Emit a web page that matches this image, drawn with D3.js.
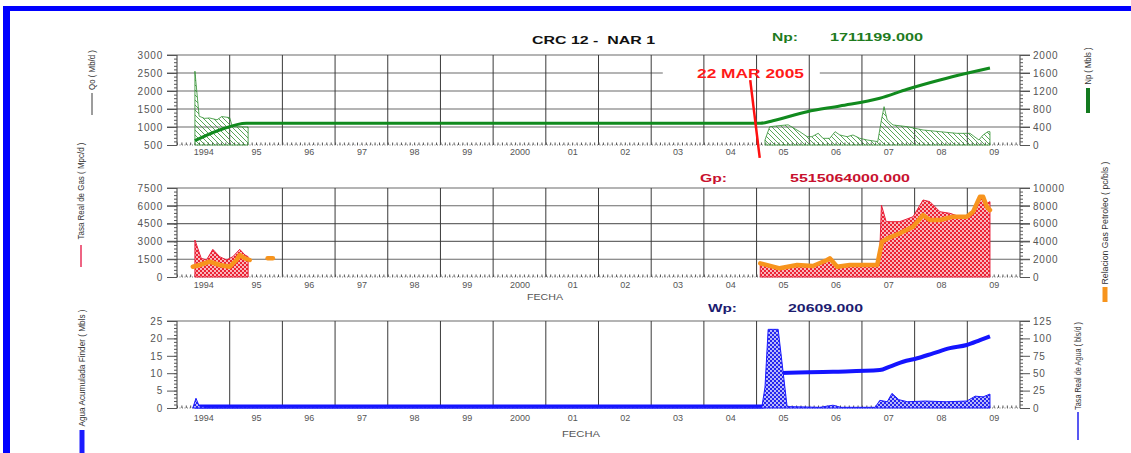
<!DOCTYPE html>
<html>
<head>
<meta charset="utf-8">
<script src="https://cdn.jsdelivr.net/npm/d3@7"></script>
<style>
  body { margin: 0; background: #fff; }
  svg { display: block; font-family: "Liberation Sans", Arial, sans-serif; }
</style>
</head>
<body>
<svg id="chart" width="1131" height="453"></svg>
<script>
// x axis: years (decimal), gridlines on Jan 1, labels mid-year
const yearGrid = d3.range(1994, 2011)
const yearLabels = ['1994', '95', '96', '97', '98', '99', '2000', '01', '02', '03', '04', '05', '06', '07', '08', '09']

// panel 1 - oil rate Qo (Mb/d, left) and cumulative Np (Mbls, right)
const qoEarly = [[1994.34, 2550], [1994.42, 1300], [1994.52, 1240], [1994.62, 1250], [1994.76, 1200], [1994.85, 1290], [1995.0, 1260], [1995.05, 1010], [1995.35, 1000]]
const qoLate = [[2005.16, 640], [2005.25, 1009], [2005.45, 1040], [2005.6, 1060], [2005.82, 870], [2005.96, 731], [2006.05, 731], [2006.17, 824], [2006.26, 685], [2006.39, 685], [2006.49, 870], [2006.58, 778], [2006.72, 731], [2006.83, 778], [2006.96, 685], [2007.1, 639], [2007.3, 593], [2007.37, 1194], [2007.42, 1565], [2007.48, 1194], [2007.59, 1056], [2007.86, 1009], [2008.16, 917], [2008.48, 870], [2008.8, 824], [2009.05, 824], [2009.22, 639], [2009.3, 778], [2009.39, 870], [2009.43, 870]]
const npCum = [[1994.34, 96], [1994.81, 333], [1995.32, 482], [2005.07, 482], [2005.31, 540], [2005.96, 740], [2006.58, 867], [2007.34, 1038], [2007.86, 1238], [2008.48, 1444], [2008.99, 1593], [2009.43, 1711]]

// panel 2 - gas rate (Mpc/d, left) and gas-oil ratio RGP (pc/bls, right)
const qgEarly = [[1994.34, 3118], [1994.46, 1573], [1994.56, 1433], [1994.68, 2331], [1994.81, 1713], [1994.94, 1433], [1995.06, 1713], [1995.19, 2331], [1995.29, 1854], [1995.35, 1713]]
const qgLate = [[2005.07, 1155], [2005.44, 733], [2005.77, 1011], [2006.07, 927], [2006.34, 1433], [2006.39, 1575], [2006.53, 868], [2006.77, 1011], [2007.33, 1011], [2007.37, 6067], [2007.46, 4663], [2007.72, 4663], [2007.97, 5080], [2008.16, 6489], [2008.29, 6348], [2008.48, 5500], [2008.67, 5365], [2008.86, 5080], [2009.05, 5080], [2009.18, 5787], [2009.28, 6910], [2009.37, 6208], [2009.43, 6348]]
const rgpEarly = [[1994.3, 1157], [1994.43, 1348], [1994.62, 1720], [1994.81, 1348], [1995.0, 1157], [1995.13, 1910], [1995.19, 2472], [1995.29, 2100], [1995.38, 1910]]
const rgpBlip = [[1995.72, 2100], [1995.82, 2100]]
const rgpLate = [[2005.07, 1536], [2005.44, 974], [2005.77, 1348], [2006.07, 1236], [2006.34, 1910], [2006.39, 2097], [2006.53, 1161], [2006.77, 1348], [2007.1, 1348], [2007.29, 1348], [2007.38, 3970], [2007.53, 4457], [2007.72, 4906], [2007.97, 5655], [2008.16, 6966], [2008.29, 6404], [2008.48, 6404], [2008.73, 6779], [2008.99, 6779], [2009.11, 7340], [2009.24, 9026], [2009.3, 9026], [2009.37, 7902], [2009.43, 7528]]

// panel 3 - cumulative water (Mbls, left) and water rate (bls/d, right)
const wpCum = [[1994.34, 0.4], [2005.12, 0.4], [2005.35, 10.0], [2006.45, 10.4], [2007.34, 10.9], [2007.53, 11.9], [2007.78, 13.3], [2008.05, 14.3], [2008.35, 15.7], [2008.67, 17.2], [2008.99, 18.1], [2009.24, 19.5], [2009.43, 20.6]]
const qwRate = [[1994.3, 0], [1994.36, 14], [1994.42, 3], [1994.55, 1], [2005.1, 1], [2005.16, 30], [2005.22, 113], [2005.41, 113], [2005.58, 2], [2006.2, 1], [2006.45, 4], [2006.6, 1], [2007.25, 1], [2007.34, 11], [2007.48, 9], [2007.57, 21], [2007.7, 12], [2007.86, 9], [2008.2, 10], [2008.6, 9], [2008.99, 10], [2009.15, 17], [2009.3, 16], [2009.43, 20]]

// event marker 22 MAR 2005 (year, Qo-axis value)
const marker = [[2004.88, 2300], [2005.06, 140]]

const svg = d3.select('#chart')
const defs = svg.append('defs')

// frame
svg.append('rect').attr('x', 3).attr('y', 6).attr('width', 1128).attr('height', 5).attr('fill', '#0000ff')
svg.append('rect').attr('x', 3).attr('y', 6).attr('width', 7).attr('height', 447).attr('fill', '#0000ff')

// fill patterns
const hatch = defs.append('pattern').attr('id', 'hatch').attr('patternUnits', 'userSpaceOnUse').attr('width', 5).attr('height', 5)
hatch.append('path').attr('d', 'M-1,-1 L6,6 M-1,4 L1,6 M4,-1 L6,1').attr('stroke', '#2f8f2f').attr('stroke-width', 0.8)

function dots(id, color) {
  const p = defs.append('pattern').attr('id', id).attr('patternUnits', 'userSpaceOnUse').attr('width', 4).attr('height', 4)
  p.append('rect').attr('width', 4).attr('height', 4).attr('fill', color)
  p.append('circle').attr('cx', 1).attr('cy', 1).attr('r', 0.9).attr('fill', '#fff')
  p.append('circle').attr('cx', 3).attr('cy', 3).attr('r', 0.9).attr('fill', '#fff')
}
dots('reddots', '#ec2234')
dots('bluedots', '#2626ee')

const x = d3.scaleLinear().domain([1994, 2010]).range([177, 1020])

const panels = [
  { top: 55, bottom: 145, left: [500, 3000], lstep: 500, right: [0, 2000], rstep: 400, grid: true, pad: 4 },
  { top: 188, bottom: 277, left: [0, 7500], lstep: 1500, right: [0, 10000], rstep: 2000, grid: true, pad: 5 },
  { top: 321, bottom: 408, left: [0, 25], lstep: 5, right: [0, 125], rstep: 25, grid: false, pad: 7 }
]

panels.forEach((p, i) => {
  p.yL = d3.scaleLinear().domain(p.left).range([p.bottom, p.top])
  p.yR = d3.scaleLinear().domain(p.right).range([p.bottom, p.top])
  const g = svg.append('g')

  // horizontal gridlines
  const hv = p.grid ? d3.range(p.left[0] + p.lstep, p.left[1] + 1, p.lstep) : [p.left[1]]
  g.selectAll('.hg').data(hv).enter().append('line')
    .attr('x1', 167).attr('x2', 1030)
    .attr('y1', d => p.yL(d)).attr('y2', d => p.yL(d))
    .attr('stroke', '#6a6a6a').attr('stroke-width', 1.1)

  if (i === 0) {
    // white box behind the event label
    g.append('rect').attr('x', x(2003.22)).attr('y', p.yL(2500) - 4)
      .attr('width', x(2006.2) - x(2003.22)).attr('height', 8).attr('fill', '#fff')
  }

  // vertical gridlines
  g.selectAll('.vg').data(yearGrid).enter().append('line')
    .attr('x1', d => x(d)).attr('x2', d => x(d))
    .attr('y1', p.top).attr('y2', p.bottom)
    .attr('stroke', '#3a3a3a').attr('stroke-width', 1)

  // left axis
  const la = g.append('g').attr('transform', 'translate(177,0)')
    .call(d3.axisLeft(p.yL).tickValues(d3.range(p.left[0], p.left[1] + 1, p.lstep)).tickSize(10).tickPadding(4).tickFormat(d3.format('d')))
  la.append('g').call(d3.axisLeft(p.yL).tickValues(d3.range(p.left[0], p.left[1], p.lstep / 5)).tickSize(3).tickFormat(''))
  // right axis
  const ra = g.append('g').attr('transform', 'translate(1020,0)')
    .call(d3.axisRight(p.yR).tickValues(d3.range(p.right[0], p.right[1] + 1, p.rstep)).tickSize(10).tickPadding(3).tickFormat(d3.format('d')))
  ra.append('g').call(d3.axisRight(p.yR).tickValues(d3.range(p.right[0], p.right[1], p.rstep / 5)).tickSize(3).tickFormat(''))

  // bottom axis: dotted base with monthly ticks
  g.append('line').attr('x1', 177).attr('x2', 1020).attr('y1', p.bottom).attr('y2', p.bottom)
    .attr('stroke', '#777').attr('stroke-dasharray', '1,1.5')
  const ba = g.append('g').attr('transform', `translate(0,${p.bottom})`)
  ba.call(d3.axisBottom(x).tickValues(d3.range(1994, 2010, 1 / 12)).tickSize(-2.5).tickFormat(''))
  const bl = g.append('g').attr('transform', `translate(0,${p.bottom})`)
    .call(d3.axisBottom(x).tickValues(yearGrid.slice(0, 16).map(d => d + 0.5)).tickSize(0).tickPadding(p.pad).tickFormat((d, k) => yearLabels[k]))

  ;[la, ra, ba, bl].forEach(a => {
    a.selectAll('.domain').remove()
    a.selectAll('line').attr('stroke', '#555')
    a.selectAll('text').attr('fill', '#555').attr('font-size', 10).attr('font-family', '"Liberation Sans", Arial, sans-serif')
  })
  bl.selectAll('text').attr('font-size', 9)
  la.selectAll('text').attr('letter-spacing', 0.8)
  ra.selectAll('text').attr('letter-spacing', 0.8)
})

const [p1, p2, p3] = panels

// panel 1 marks
const qoArea = d3.area().x(d => x(d[0])).y0(p1.bottom).y1(d => p1.yL(d[1]))
;[qoEarly, qoLate].forEach(s => {
  svg.append('path').datum(s).attr('d', qoArea)
    .attr('fill', 'url(#hatch)').attr('stroke', '#2f8f2f').attr('stroke-width', 0.8)
})
svg.append('path').datum(npCum)
  .attr('d', d3.line().x(d => x(d[0])).y(d => p1.yR(d[1])).curve(d3.curveMonotoneX))
  .attr('fill', 'none').attr('stroke', '#118a1e').attr('stroke-width', 3)

// panel 2 marks
const qgArea = d3.area().x(d => x(d[0])).y0(p2.bottom).y1(d => p2.yL(d[1]))
;[qgEarly, qgLate].forEach(s => {
  svg.append('path').datum(s).attr('d', qgArea)
    .attr('fill', 'url(#reddots)').attr('stroke', '#e8203a').attr('stroke-width', 1)
})
const rgpLine = d3.line().x(d => x(d[0])).y(d => p2.yR(d[1]))
;[rgpEarly, rgpBlip, rgpLate].forEach(s => {
  svg.append('path').datum(s).attr('d', rgpLine)
    .attr('fill', 'none').attr('stroke', '#f7941d').attr('stroke-width', 4.5)
    .attr('stroke-linejoin', 'round').attr('stroke-linecap', 'round')
})

// panel 3 marks
svg.append('path').datum(wpCum)
  .attr('d', d3.line().x(d => x(d[0])).y(d => p3.yL(d[1])).curve(d3.curveMonotoneX))
  .attr('fill', 'none').attr('stroke', '#1414ff').attr('stroke-width', 4)
svg.append('path').datum(qwRate)
  .attr('d', d3.area().x(d => x(d[0])).y0(p3.bottom).y1(d => p3.yR(d[1])))
  .attr('fill', 'url(#bluedots)').attr('stroke', '#1a1aff').attr('stroke-width', 1)

// event marker
svg.append('path').datum(marker)
  .attr('d', d3.line().x(d => x(d[0])).y(d => p1.yL(d[1])))
  .attr('stroke', '#ff1010').attr('stroke-width', 2.5).attr('fill', 'none')

// texts
function label(t, px, py, len, size, color, bold) {
  return svg.append('text').attr('x', px).attr('y', py).text(t)
    .attr('textLength', len).attr('lengthAdjust', 'spacingAndGlyphs')
    .attr('font-size', size).attr('fill', color)
    .attr('font-weight', bold ? 'bold' : 'normal').style('white-space', 'pre')
}
label('CRC 12 -  NAR 1', 532, 44, 123, 11, '#111', true)
label('Np:', 772, 41, 26, 10, '#1e7b1e', true)
label('1711199.000', 830, 41, 93, 10, '#1e7b1e', true)
label('22 MAR 2005', 697, 78, 107, 13, '#ff1a1a', true)
label('Gp:', 700, 182, 27, 10, '#c8102e', true)
label('5515064000.000', 790, 182, 120, 10, '#c8102e', true)
label('Wp:', 708, 312, 29, 10, '#1c1c70', true)
label('20609.000', 788, 312, 75, 10, '#1c1c70', true)
label('FECHA', 527, 300, 36, 9, '#555', false)
label('FECHA', 562, 437, 38, 9, '#555', false)

// rotated side legends
const sideLegends = [
  { t: 'Qo ( Mb/d )', x: 92, cy: 70, len: 40, line: [93, 115], color: '#3a3a3a', w: 1 },
  { t: 'Tasa Real de Gas ( Mpc/d )', x: 81, cy: 191, len: 97, line: [245, 267], color: '#e8305a', w: 1.5 },
  { t: 'Agua Acumulada Finder ( Mbls )', x: 82, cy: 368, len: 117, line: [430, 453], color: '#1a1aff', w: 5 },
  { t: 'Np ( Mbls )', x: 1088, cy: 66, len: 37, line: [88, 113], color: '#137a1f', w: 4 },
  { t: 'Relacion Gas Petroleo ( pc/bls )', x: 1105, cy: 223, len: 123, line: [287, 302], color: '#f7941d', w: 5 },
  { t: 'Tasa Real de Agua ( bls/d )', x: 1078, cy: 366, len: 88, line: [412, 440], color: '#2020ee', w: 1.5 }
]
sideLegends.forEach(s => {
  svg.append('text').attr('transform', `translate(${s.x + 3},${s.cy}) rotate(-90)`)
    .attr('text-anchor', 'middle').attr('font-size', 9).attr('fill', '#333')
    .attr('textLength', s.len).attr('lengthAdjust', 'spacingAndGlyphs')
    .style('white-space', 'pre').text(s.t)
  svg.append('line').attr('x1', s.x).attr('x2', s.x).attr('y1', s.line[0]).attr('y2', s.line[1])
    .attr('stroke', s.color).attr('stroke-width', s.w)
})
</script>
</body>
</html>
